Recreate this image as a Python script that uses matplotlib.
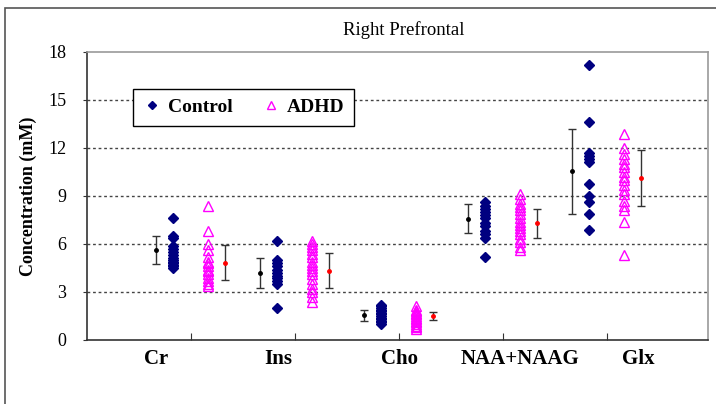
import matplotlib
matplotlib.use("Agg")
import matplotlib.pyplot as plt
from matplotlib.patches import Rectangle
from matplotlib.transforms import blended_transform_factory

categories = ["Cr", "Ins", "Cho", "NAA+NAAG", "Glx"]

control_values = [
    [7.6, 6.5, 6.4, 5.9, 5.7, 5.5, 5.3, 5.1, 5.0, 4.9, 4.8, 4.7, 4.6, 4.5],
    [6.2, 5.0, 4.8, 4.6, 4.4, 4.2, 4.0, 3.9, 3.7, 3.5, 2.0],
    [2.2, 2.1, 2.0, 1.9, 1.8, 1.7, 1.6, 1.5, 1.4, 1.3, 1.2, 1.1, 1.0],
    [8.6, 8.4, 8.2, 8.0, 7.8, 7.6, 7.3, 7.1, 6.8, 6.6, 6.4, 5.2],
    [17.2, 13.6, 11.7, 11.5, 11.3, 11.1, 9.75, 9.0, 8.65, 7.9, 6.9],
]
adhd_values = [
    [8.4, 6.8, 6.0, 5.6, 5.2, 4.9, 4.8, 4.6, 4.4, 4.3, 4.1, 3.9, 3.7, 3.5, 3.4],
    [6.2, 6.0, 5.8, 5.6, 5.4, 5.2, 4.9, 4.7, 4.5, 4.3, 4.1, 3.8, 3.5, 3.2, 3.0, 2.7, 2.4],
    [2.1, 1.9, 1.8, 1.7, 1.6, 1.5, 1.4, 1.3, 1.2, 1.1, 1.0, 0.9, 0.8, 0.7],
    [9.1, 8.8, 8.5, 8.3, 8.1, 7.9, 7.6, 7.4, 7.2, 7.0, 6.8, 6.6, 6.3, 6.1, 5.8, 5.6],
    [12.9, 12.0, 11.6, 11.3, 11.0, 10.8, 10.5, 10.2, 10.0, 9.7, 9.4, 9.1, 8.7, 8.4, 8.1, 7.4, 5.3],
]
control_mean = [5.6, 4.2, 1.54, 7.57, 10.55]
control_sd = [0.87, 0.92, 0.34, 0.9, 2.65]
adhd_mean = [4.84, 4.32, 1.51, 7.3, 10.15]
adhd_sd = [1.12, 1.1, 0.26, 0.9, 1.75]

y_ticks = [0, 3, 6, 9, 12, 15, 18]

# layout
group_pos = [1, 2, 3, 4, 5]
label_pos = [0.66, 1.84, 3.0, 4.16, 5.3]
off_cmean, off_ctrl, off_adhd, off_amean = -0.34, -0.17, 0.16, 0.33

plt.rcParams['font.family'] = ['Liberation Serif', 'DejaVu Serif']

fig = plt.figure(figsize=(7.16, 4.04), dpi=100)
ax = fig.add_axes([87/716, 64/404, 621/716, 288/404])

# outer frame
fig.patches.append(Rectangle((5/716, -0.05), 1.2, 1 - 8/404 + 0.05,
                             transform=fig.transFigure, fill=False,
                             edgecolor='#555555', linewidth=1.2))

for i, g in enumerate(group_pos):
    cv = control_values[i]
    av = adhd_values[i]
    ax.plot([g + off_ctrl] * len(cv), cv, linestyle='none', marker='D',
            markersize=5.5, color='#000080', zorder=3,
            label='Control' if i == 0 else None)
    ax.plot([g + off_adhd] * len(av), av, linestyle='none', marker='^',
            markersize=7, markerfacecolor='none', markeredgecolor='#FF00FF',
            markeredgewidth=1.0, zorder=3, label='ADHD' if i == 0 else None)
    ax.errorbar(g + off_cmean, control_mean[i], yerr=control_sd[i], fmt='o',
                markersize=2.5, color='black', ecolor='#333333', elinewidth=1,
                capsize=3, capthick=1, zorder=3)
    ax.errorbar(g + off_amean, adhd_mean[i], yerr=adhd_sd[i], fmt='o',
                markersize=2.5, color='red', ecolor='#333333', elinewidth=1,
                capsize=3, capthick=1, zorder=3)

ax.set_xlim(0, 5.97)
ax.set_ylim(0, 18)
ax.set_yticks(y_ticks)
ax.set_yticklabels([str(t) for t in y_ticks], fontsize=13)
ax.tick_params(axis='y', direction='out', length=3, pad=12, color='#333333')

ax.set_xticks(group_pos)
ax.set_xticklabels([])
ax.tick_params(axis='x', which='major', direction='in', length=5, color='#333333')

trans = blended_transform_factory(ax.transData, ax.transAxes)
for xp, name in zip(label_pos, categories):
    ax.text(xp, -0.066, name, transform=trans, ha='center', va='center',
            fontsize=15, fontweight='bold')

for t in y_ticks[1:-1]:
    ax.axhline(t, color='#444444', linestyle=(0, (2, 2)), linewidth=1, zorder=1)

for side in ['top', 'right']:
    ax.spines[side].set_color('#999999')
    ax.spines[side].set_linewidth(1.2)
for side in ['left', 'bottom']:
    ax.spines[side].set_color('#333333')
    ax.spines[side].set_linewidth(1.2)

ax.set_ylabel('Concentration (mM)', fontsize=13, fontweight='bold', labelpad=8)

fig.text(404/716, 1 - 30/404, 'Right Prefrontal', ha='center', va='center', fontsize=13.5)

leg = ax.legend(loc='center', bbox_to_anchor=(0.077, 0.739, 0.35, 0.139), ncol=2,
                frameon=True, fancybox=False, edgecolor='black', framealpha=1,
                prop={'weight': 'bold', 'size': 14}, markerscale=0.75,
                handlelength=1.0, handletextpad=0.3, columnspacing=1.5,
                borderpad=0.5)
leg.get_frame().set_linewidth(1.0)

fig.savefig('out.png', dpi=100)
